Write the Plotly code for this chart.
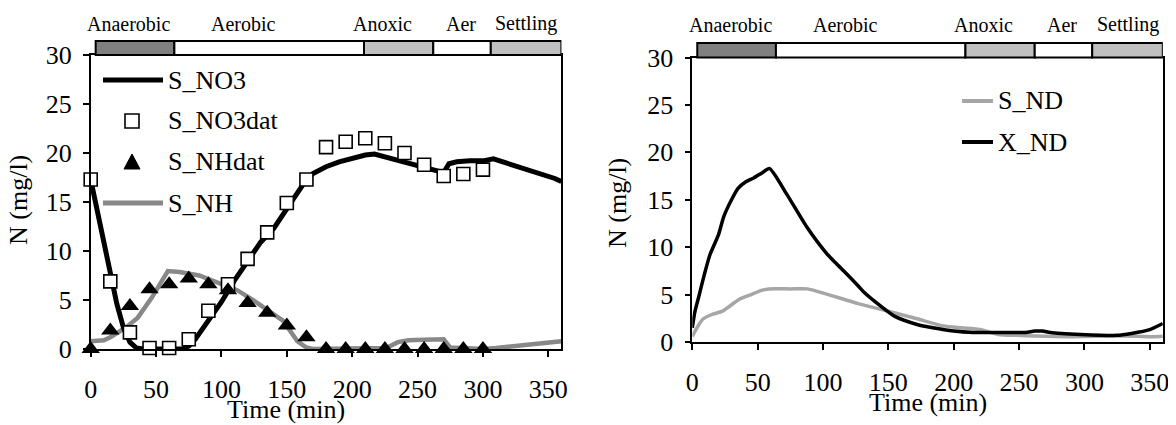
import plotly.graph_objects as go

# ---------------- data ----------------
# Left panel: simulated S_NO3 line
t_no3 = [0, 5, 10, 15, 20, 25, 30, 35, 40, 70, 75, 80, 90, 100, 110, 120, 130, 140, 150, 155,
         160, 165, 170, 180, 190, 200, 210, 217, 225, 235, 245, 255, 265, 270, 274, 280, 290,
         300, 308, 315, 325, 335, 345, 355, 360]
s_no3 = [17.3, 14.0, 10.8, 7.6, 4.6, 2.2, 0.7, 0.1, 0.0, 0.0, 0.3, 1.0, 2.8, 4.8, 7.0, 9.0, 10.9,
         12.3, 14.3, 15.4, 16.5, 17.3, 17.9, 18.6, 19.1, 19.5, 19.8, 19.9, 19.6, 19.2, 18.9, 18.5,
         18.2, 18.0, 18.9, 19.1, 19.2, 19.2, 19.4, 19.1, 18.7, 18.3, 17.9, 17.4, 17.1]

# Left panel: simulated S_NH line
t_nh = [0, 10, 15, 27, 36, 47, 59, 68, 83, 97, 112, 123, 135, 147, 158, 165, 170, 220, 226,
        235, 243, 255, 270, 275, 300, 310, 328, 345, 360]
s_nh = [0.8, 0.9, 1.2, 2.2, 3.2, 5.3, 7.95, 7.85, 7.5, 6.8, 6.0, 5.1, 4.0, 2.9, 0.8, 0.15, 0.0,
        0.0, 0.1, 0.7, 0.9, 0.95, 1.0, 0.15, 0.0, 0.1, 0.35, 0.5, 0.8]

# Left panel: measured data
t_dat = [0, 15, 30, 45, 60, 75, 90, 105, 120, 135, 150, 165, 180, 195, 210, 225, 240, 255, 270,
         285, 300]
s_no3_dat = [17.3, 6.9, 1.7, 0.1, 0.1, 1.0, 3.9, 6.6, 9.2, 11.9, 14.9, 17.3, 20.6, 21.15, 21.5,
             21.0, 20.0, 18.8, 17.65, 17.85, 18.3]
s_nh_dat = [0.0, 1.9, 4.4, 6.1, 6.6, 7.2, 6.6, 6.0, 4.7, 3.7, 2.4, 1.2, 0.0, 0.0, 0.0, 0.0, 0.0,
            0.0, 0.0, 0.0, 0.0]

# Right panel
t_nd = [0, 4, 8, 15, 23, 36, 45, 53, 59, 75, 88, 104, 127, 150, 172, 192, 206, 220, 234, 248,
        262, 290, 319, 340, 353, 360]
s_nd = [0.6, 1.6, 2.4, 2.9, 3.25, 4.5, 5.0, 5.45, 5.6, 5.6, 5.6, 5.0, 4.05, 3.25, 2.45, 1.7, 1.5,
        1.33, 0.8, 0.7, 0.63, 0.56, 0.63, 0.6, 0.56, 0.6]
t_xnd = [0, 2, 5, 9, 13.5, 20, 24, 30, 35, 41, 47, 53, 59, 72, 87.5, 103, 110, 118, 127, 131,
         144, 155, 172, 184, 200, 215, 240, 255, 262, 268, 274, 297, 325, 336, 350, 360]
x_nd = [1.5, 3.2, 4.8, 7.0, 9.2, 11.3, 13.2, 15.0, 16.2, 16.9, 17.3, 17.8, 18.3, 15.65, 12.15,
        9.3, 8.3, 7.2, 5.9, 5.3, 3.8, 2.7, 1.85, 1.5, 1.15, 1.0, 1.0, 1.0, 1.15, 1.15, 1.0, 0.8,
        0.7, 0.9, 1.3, 1.95]

# Process phases (top bar)
phase_names = ["Anaerobic", "Aerobic", "Anoxic", "Aer", "Settling"]
phase_bounds = [3.8, 64, 209, 262, 306, 360]
phase_label_x = [29, 117, 223, 283, 333]
phase_colors = ["#808080", "#ffffff", "#c0c0c0", "#ffffff", "#c0c0c0"]

x_ticks = [0, 50, 100, 150, 200, 250, 300, 350]
y_ticks = [0, 5, 10, 15, 20, 25, 30]

# ---------------- layout helpers ----------------
# The page body has an 8px margin, so the figure is sized to end at the window edge
OFF = 8
SW, SH = 1176, 425
W, H = SW - OFF, SH - OFF
FONT = "Liberation Serif, Times New Roman, serif"


def px(x):
    """screen x (pixels) -> paper fraction"""
    return (x - OFF) / W


def py(y):
    """screen y (pixels from top) -> paper fraction"""
    return 1 - (y - OFF) / H


fig = go.Figure()

# left panel traces
fig.add_trace(go.Scatter(x=t_nh, y=s_nh, mode="lines", name="S_NH",
                         line=dict(color="#888888", width=4.5), xaxis="x", yaxis="y",
                         cliponaxis=False))
fig.add_trace(go.Scatter(x=t_no3, y=s_no3, mode="lines", name="S_NO3",
                         line=dict(color="black", width=5), xaxis="x", yaxis="y",
                         cliponaxis=False))
fig.add_trace(go.Scatter(x=t_dat, y=s_no3_dat, mode="markers", name="S_NO3dat",
                         marker=dict(symbol="square", size=13, color="white",
                                     line=dict(color="black", width=1.6)),
                         xaxis="x", yaxis="y", cliponaxis=False))
fig.add_trace(go.Scatter(x=t_dat, y=s_nh_dat, mode="markers", name="S_NHdat",
                         marker=dict(symbol="triangle-up", size=16, color="black"),
                         xaxis="x", yaxis="y", cliponaxis=False))

# right panel traces
fig.add_trace(go.Scatter(x=t_nd, y=s_nd, mode="lines", name="S_ND",
                         line=dict(color="#a6a6a6", width=3.5, shape="spline", smoothing=0.6),
                         xaxis="x2", yaxis="y2", cliponaxis=False))
fig.add_trace(go.Scatter(x=t_xnd, y=x_nd, mode="lines", name="X_ND",
                         line=dict(color="black", width=3.5, shape="spline", smoothing=0.6),
                         xaxis="x2", yaxis="y2", cliponaxis=False))

axis_common = dict(range=[0, 360], tickvals=x_ticks, showline=True, linecolor="black",
                   linewidth=1.5, mirror=True, ticks="outside", ticklen=6, tickwidth=1.5,
                   tickcolor="black", showgrid=False, zeroline=False, automargin=False,
                   tickfont=dict(family=FONT, size=26, color="black"), ticklabelstandoff=10)
yaxis_common = dict(range=[0, 30], tickvals=y_ticks, showline=True, linecolor="black",
                    linewidth=1.5, mirror=True, ticks="outside", ticklen=6, tickwidth=1.5,
                    tickcolor="black", showgrid=False, zeroline=False, automargin=False,
                    tickfont=dict(family=FONT, size=26, color="black"), ticklabelstandoff=6)

fig.update_layout(
    template="none",
    width=W, height=H,
    margin=dict(l=0, r=0, t=0, b=0, pad=0, autoexpand=False),
    paper_bgcolor="white", plot_bgcolor="white",
    showlegend=False,
    xaxis=dict(domain=[px(90.7), px(561.4)], anchor="y", **axis_common),
    yaxis=dict(domain=[py(349), py(55)], anchor="x", **yaxis_common),
    xaxis2=dict(domain=[px(692.3), px(1162.8)], anchor="y2", **axis_common),
    yaxis2=dict(domain=[py(342), py(57.5)], anchor="x2", **yaxis_common),
)

shapes = []
annotations = []

# phase bars + labels
for xr, ytop, ybot, ylab in [("x", 41, 55, 24), ("x2", 43, 57.5, 25)]:
    for i, name in enumerate(phase_names):
        shapes.append(dict(type="rect", xref=xr, yref="paper",
                           x0=phase_bounds[i], x1=phase_bounds[i + 1],
                           y0=py(ybot), y1=py(ytop),
                           fillcolor=phase_colors[i], line=dict(color="black", width=2),
                           layer="above"))
        annotations.append(dict(text=name, xref=xr, yref="paper", x=phase_label_x[i],
                                y=py(ylab), showarrow=False, xanchor="center",
                                yanchor="middle",
                                font=dict(family=FONT, size=20, color="black")))

# axis titles
for x, y, txt, ang in [(286, 409, "Time (min)", 0), (928, 402, "Time (min)", 0),
                       (18, 200, "N (mg/l)", -90), (617, 203, "N (mg/l)", -90)]:
    annotations.append(dict(text=txt, xref="paper", yref="paper", x=px(x), y=py(y),
                            showarrow=False, xanchor="center", yanchor="middle",
                            textangle=ang, font=dict(family=FONT, size=26, color="black")))

# left legend (manual)
leg_left = [("S_NO3", "line", "black", 80), ("S_NO3dat", "square", "black", 121),
            ("S_NHdat", "triangle", "black", 162), ("S_NH", "line", "#888888", 203)]
for name, kind, col, yy in leg_left:
    if kind == "line":
        shapes.append(dict(type="line", xref="paper", yref="paper", x0=px(103), x1=px(163),
                           y0=py(yy), y1=py(yy), line=dict(color=col, width=5)))
    elif kind == "square":
        shapes.append(dict(type="rect", xref="paper", yref="paper", x0=px(125), x1=px(139),
                           y0=py(yy + 7), y1=py(yy - 7), fillcolor="white",
                           line=dict(color="black", width=1.6)))
    else:
        path = "M {} {} L {} {} L {} {} Z".format(px(124), py(yy + 7), px(140), py(yy + 7),
                                                  px(132), py(yy - 8))
        shapes.append(dict(type="path", xref="paper", yref="paper", path=path,
                           fillcolor="black", line=dict(color="black", width=1)))
    annotations.append(dict(text=name, xref="paper", yref="paper", x=px(166), y=py(yy),
                            showarrow=False, xanchor="left", yanchor="middle",
                            font=dict(family=FONT, size=26, color="black")))

# right legend (manual)
for name, col, yy in [("S_ND", "#a6a6a6", 101), ("X_ND", "black", 142)]:
    shapes.append(dict(type="line", xref="paper", yref="paper", x0=px(962), x1=px(993),
                       y0=py(yy), y1=py(yy), line=dict(color=col, width=4)))
    annotations.append(dict(text=name, xref="paper", yref="paper", x=px(996), y=py(yy),
                            showarrow=False, xanchor="left", yanchor="middle",
                            font=dict(family=FONT, size=26, color="black")))

fig.update_layout(shapes=shapes, annotations=annotations)
fig.write_html("out.html")
